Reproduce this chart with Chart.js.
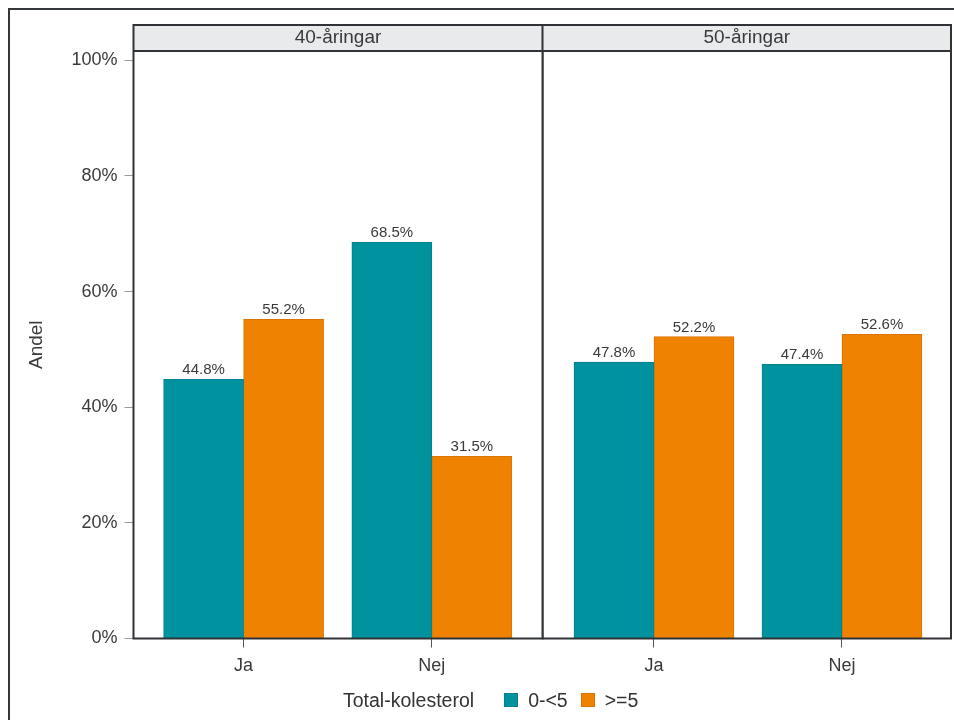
<!DOCTYPE html>
<html><head><meta charset="utf-8">
<script src="https://cdn.jsdelivr.net/npm/chart.js@4.4.1/dist/chart.umd.min.js"></script>
<style>
body{margin:0;background:#fff;}
#wrap{position:relative;width:954px;height:720px;overflow:hidden;background:#fff;font-family:"Liberation Sans",Arial,sans-serif;}
#frame{position:absolute;left:8px;top:8px;width:1000px;height:1000px;border-left:2px solid #33363a;border-top:2px solid #33363a;}
canvas{position:absolute;top:0;}
#c1{left:0}
#c2{left:542px}
#legend{position:absolute;top:689px;left:343px;display:flex;align-items:center;font-size:19.5px;color:#333;white-space:nowrap;line-height:22px;}
.box{width:12px;height:12px;display:inline-block;border:1px solid;}
</style></head>
<body><div id="wrap"><div id="frame"></div>
<canvas id="c1" width="544" height="720"></canvas>
<canvas id="c2" width="412" height="720"></canvas>
<div id="legend"></div></div>
<script>
// ---- data ----
const panels = ["40-åringar", "50-åringar"];
const categories = ["Ja", "Nej"];
const seriesNames = ["0-<5", ">=5"];
const legendTitle = "Total-kolesterol";
const yAxisTitle = "Andel";
const yTickValues = [0, 20, 40, 60, 80, 100];
const age40Low = [44.8, 68.5];
const age40High = [55.2, 31.5];
const age50Low = [47.8, 47.4];
const age50High = [52.2, 52.6];

// ---- styles ----
const fills = ["#00929e", "#ef8200"];
const borders = ["#00808b", "#d97400"];
const textColor = "#3a3a3a";
const FONT = '"Liberation Sans", Arial, sans-serif';

const panelPlugin = {
  id: 'panel',
  afterDatasetsDraw(chart, args, opts) {
    const {ctx, chartArea: a} = chart;
    ctx.save();
    // data labels
    ctx.font = '15px ' + FONT;
    ctx.fillStyle = textColor;
    ctx.textAlign = 'center';
    ctx.textBaseline = 'alphabetic';
    chart.data.datasets.forEach((ds, di) => {
      chart.getDatasetMeta(di).data.forEach((el, i) => {
        ctx.fillText(ds.data[i].y.toFixed(1) + '%', el.x, el.y - 5);
      });
    });
    // header strip
    const hTop = a.top - 26;
    ctx.fillStyle = '#e9eaec';
    ctx.fillRect(a.left, hTop, a.right - a.left, 26);
    ctx.strokeStyle = '#2f3236';
    ctx.lineWidth = 2;
    ctx.strokeRect(a.left, hTop, a.right - a.left, a.bottom - hTop);
    ctx.beginPath();
    ctx.moveTo(a.left, a.top);
    ctx.lineTo(a.right, a.top);
    ctx.stroke();
    ctx.fillStyle = textColor;
    ctx.font = '19px ' + FONT;
    ctx.textBaseline = 'middle';
    ctx.fillText(opts.title, (a.left + a.right) / 2, hTop + 13);
    ctx.restore();
  }
};

function makeDatasets(low, high) {
  return [low, high].map((vals, s) => ({
    label: seriesNames[s],
    data: vals.map((v, i) => ({x: i, y: v})),
    backgroundColor: fills[s],
    borderColor: borders[s],
    borderWidth: 1,
    barThickness: 80
  }));
}

function makeChart(id, title, low, high, showY, padding, xMin, xMax) {
  return new Chart(document.getElementById(id), {
    type: 'bar',
    data: {datasets: makeDatasets(low, high)},
    plugins: [panelPlugin],
    options: {
      responsive: false,
      animation: false,
      devicePixelRatio: 1,
      layout: {padding},
      plugins: {legend: {display: false}, tooltip: {enabled: false}, panel: {title}},
      scales: {
        x: {
          type: 'linear',
          offset: false,
          min: xMin, max: xMax,
          afterBuildTicks: sc => { sc.ticks = categories.map((c, i) => ({value: i})); },
          afterFit: sc => { sc.height = 81.5; },
          ticks: {callback: v => categories[v], font: {size: 18, family: FONT}, color: textColor, padding: 8, maxRotation: 0},
          grid: {offset: false, drawOnChartArea: false, drawTicks: true, tickLength: 9, tickColor: '#555'},
          border: {display: false}
        },
        y: {
          display: showY,
          min: 0, max: 101.6,
          afterBuildTicks: sc => { sc.ticks = yTickValues.map(v => ({value: v})); },
          afterFit: sc => { if (showY) sc.width = 133.5; },
          ticks: {callback: v => v + '%', font: {size: 18, family: FONT}, color: textColor, padding: 7},
          grid: {drawOnChartArea: false, drawTicks: true, tickLength: 9, tickColor: '#999'},
          border: {display: false},
          title: {display: true, text: yAxisTitle, font: {size: 19, family: FONT}, color: textColor, padding: {top: 25, bottom: 0}}
        }
      }
    }
  });
}

makeChart('c1', panels[0], age40Low, age40High, true, {top: 51, left: 0, right: 1.5, bottom: 0}, -0.585, 1.588);
makeChart('c2', panels[1], age50Low, age50High, false, {top: 51, left: 0.5, right: 3, bottom: 0}, -0.593, 1.58);

// legend
const lg = document.getElementById('legend');
const t = document.createElement('span'); t.textContent = legendTitle; t.style.marginRight = '30px'; lg.appendChild(t);
seriesNames.forEach((n, s) => {
  const b = document.createElement('span'); b.className = 'box';
  b.style.background = fills[s]; b.style.borderColor = borders[s]; b.style.marginRight = '10px';
  lg.appendChild(b);
  const tx = document.createElement('span'); tx.textContent = n;
  if (s < seriesNames.length - 1) tx.style.marginRight = '13px';
  lg.appendChild(tx);
});
</script>
</body></html>
